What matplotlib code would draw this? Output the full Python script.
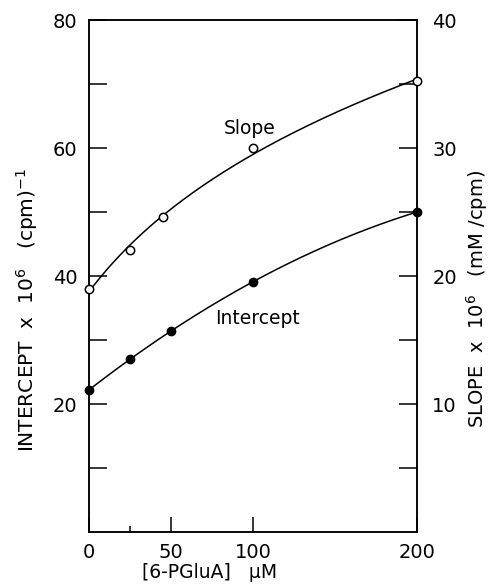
import numpy as np
import matplotlib
matplotlib.use("Agg")
import matplotlib.pyplot as plt

# data
conc = [0, 25, 45, 100, 200]            # [6-PGluA] uM (slope points)
slope = [19.0, 22.0, 24.6, 30.0, 35.2]  # slope x 10^6 (right axis)
conc_i = [0, 25, 50, 100, 200]          # intercept points
intercept = [22.2, 27.0, 31.4, 39.1, 50.0]  # intercept x 10^6 (left axis)

plt.rcParams["font.family"] = "DejaVu Sans"

W, H = 490, 586
fig = plt.figure(figsize=(W / 100, H / 100), dpi=100)
ax = fig.add_axes([89 / W, 1 - 532 / H, 328 / W, 512 / H])
ax2 = ax.twinx()

# smooth curves through the points
xs = np.linspace(0, 200, 200)
ci = np.polyfit(conc_i, intercept, 2)
ax.plot(xs, np.polyval(ci, xs), color="black", lw=1.1)
cs = np.polyfit(np.log(np.array(conc) + 50.0), slope, 2)
ax2.plot(xs, np.polyval(cs, np.log(xs + 50.0)), color="black", lw=1.1)

ax.plot(conc_i, intercept, "o", color="black", ms=6, clip_on=False, zorder=5)
ax2.plot(conc, slope, "o", mfc="white", mec="black", mew=1.1, ms=6,
         clip_on=False, zorder=5)

ax.set_xlim(0, 200)
ax.set_ylim(0, 80)
ax2.set_ylim(0, 40)

ax.set_xticks([0, 50, 100, 200])
ax.set_xticks([25], minor=True)
ax.set_yticks([20, 40, 60, 80])
ax.set_yticks([10, 30, 50, 70], minor=True)
ax2.set_yticks([10, 20, 30, 40])
ax2.set_yticks([5, 15, 25, 35], minor=True)

ax.tick_params(axis="x", which="major", direction="in", length=11, width=1.1,
               pad=8, labelsize=14, top=False)
ax.tick_params(axis="x", which="minor", direction="in", length=4, width=1.1)
ax.tick_params(axis="y", which="both", direction="in", length=13, width=1.1,
               pad=8.5, labelsize=14)
ax2.tick_params(axis="y", which="both", direction="in", length=13, width=1.1,
                pad=11, labelsize=14)

for a in (ax, ax2):
    for s in a.spines.values():
        s.set_linewidth(1.1)

ax.text(98, 63.1, "Slope", fontsize=13.5, ha="center", va="center")
ax.text(103, 33.4, "Intercept", fontsize=13.5, ha="center", va="center")

# axis titles placed in figure pixels
fig.text(210 / W, 1 - 572 / H, "[6-PGluA]   μM", fontsize=13.5,
         ha="center", va="center")
fig.text(27 / W, 1 - 310 / H, "INTERCEPT  x  10$^6$   (cpm)$^{-1}$",
         fontsize=14.5, rotation=90, ha="center", va="center")
fig.text(477 / W, 1 - 299 / H, "SLOPE  x  10$^6$   (mM /cpm)",
         fontsize=14, rotation=90, ha="center", va="center")

fig.savefig("out.png", dpi=100)
